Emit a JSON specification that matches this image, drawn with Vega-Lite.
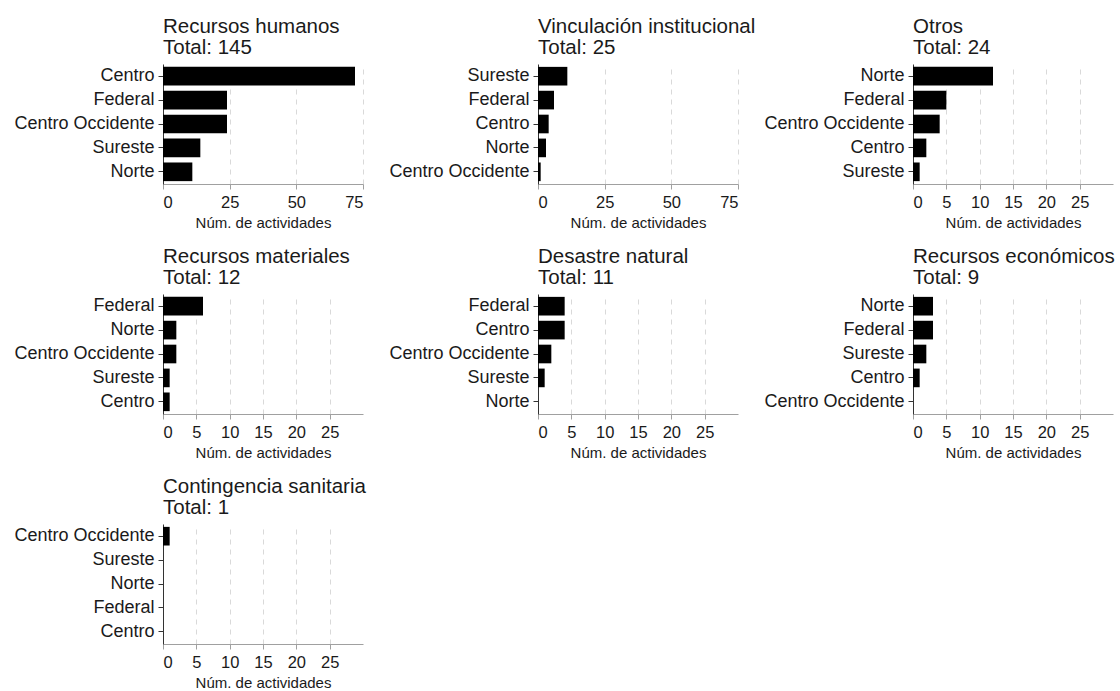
{
  "$schema": "https://vega.github.io/schema/vega-lite/v6.json",
  "padding": {"left": 13, "top": 16, "right": 5, "bottom": 5},
  "data": {"values": [
    {"categoria": "Recursos humanos", "region": "Centro", "n": 72},
    {"categoria": "Recursos humanos", "region": "Federal", "n": 24},
    {"categoria": "Recursos humanos", "region": "Centro Occidente", "n": 24},
    {"categoria": "Recursos humanos", "region": "Sureste", "n": 14},
    {"categoria": "Recursos humanos", "region": "Norte", "n": 11},
    {"categoria": "Vinculación institucional", "region": "Sureste", "n": 11},
    {"categoria": "Vinculación institucional", "region": "Federal", "n": 6},
    {"categoria": "Vinculación institucional", "region": "Centro", "n": 4},
    {"categoria": "Vinculación institucional", "region": "Norte", "n": 3},
    {"categoria": "Vinculación institucional", "region": "Centro Occidente", "n": 1},
    {"categoria": "Otros", "region": "Norte", "n": 12},
    {"categoria": "Otros", "region": "Federal", "n": 5},
    {"categoria": "Otros", "region": "Centro Occidente", "n": 4},
    {"categoria": "Otros", "region": "Centro", "n": 2},
    {"categoria": "Otros", "region": "Sureste", "n": 1},
    {"categoria": "Recursos materiales", "region": "Federal", "n": 6},
    {"categoria": "Recursos materiales", "region": "Norte", "n": 2},
    {"categoria": "Recursos materiales", "region": "Centro Occidente", "n": 2},
    {"categoria": "Recursos materiales", "region": "Sureste", "n": 1},
    {"categoria": "Recursos materiales", "region": "Centro", "n": 1},
    {"categoria": "Desastre natural", "region": "Federal", "n": 4},
    {"categoria": "Desastre natural", "region": "Centro", "n": 4},
    {"categoria": "Desastre natural", "region": "Centro Occidente", "n": 2},
    {"categoria": "Desastre natural", "region": "Sureste", "n": 1},
    {"categoria": "Desastre natural", "region": "Norte", "n": 0},
    {"categoria": "Recursos económicos", "region": "Norte", "n": 3},
    {"categoria": "Recursos económicos", "region": "Federal", "n": 3},
    {"categoria": "Recursos económicos", "region": "Sureste", "n": 2},
    {"categoria": "Recursos económicos", "region": "Centro", "n": 1},
    {"categoria": "Recursos económicos", "region": "Centro Occidente", "n": 0},
    {"categoria": "Contingencia sanitaria", "region": "Centro Occidente", "n": 1},
    {"categoria": "Contingencia sanitaria", "region": "Sureste", "n": 0},
    {"categoria": "Contingencia sanitaria", "region": "Norte", "n": 0},
    {"categoria": "Contingencia sanitaria", "region": "Federal", "n": 0},
    {"categoria": "Contingencia sanitaria", "region": "Centro", "n": 0}
  ]},
  "columns": 3,
  "bounds": "flush",
  "spacing": {"row": 110, "column": 175},
  "concat": [
    {
      "title": {"text": ["Recursos humanos", "Total: 145"]},
      "width": 200, "height": 120,
      "transform": [{"filter": "datum.categoria === 'Recursos humanos'"}],
      "mark": {"type": "bar", "color": "#000000"},
      "encoding": {
        "y": {"field": "region", "type": "nominal", "title": null, "sort": ["Centro", "Federal", "Centro Occidente", "Sureste", "Norte"]},
        "x": {"field": "n", "type": "quantitative", "title": "Núm. de actividades", "scale": {"domain": [0, 75], "nice": false}, "axis": {"values": [0, 25, 50, 75]}}
      }
    },
    {
      "title": {"text": ["Vinculación institucional", "Total: 25"]},
      "width": 200, "height": 120,
      "transform": [{"filter": "datum.categoria === 'Vinculación institucional'"}],
      "mark": {"type": "bar", "color": "#000000"},
      "encoding": {
        "y": {"field": "region", "type": "nominal", "title": null, "sort": ["Sureste", "Federal", "Centro", "Norte", "Centro Occidente"]},
        "x": {"field": "n", "type": "quantitative", "title": "Núm. de actividades", "scale": {"domain": [0, 75], "nice": false}, "axis": {"values": [0, 25, 50, 75]}}
      }
    },
    {
      "title": {"text": ["Otros", "Total: 24"]},
      "width": 200, "height": 120,
      "transform": [{"filter": "datum.categoria === 'Otros'"}],
      "mark": {"type": "bar", "color": "#000000"},
      "encoding": {
        "y": {"field": "region", "type": "nominal", "title": null, "sort": ["Norte", "Federal", "Centro Occidente", "Centro", "Sureste"]},
        "x": {"field": "n", "type": "quantitative", "title": "Núm. de actividades", "scale": {"domain": [0, 30], "nice": false}, "axis": {"values": [0, 5, 10, 15, 20, 25]}}
      }
    },
    {
      "title": {"text": ["Recursos materiales", "Total: 12"]},
      "width": 200, "height": 120,
      "transform": [{"filter": "datum.categoria === 'Recursos materiales'"}],
      "mark": {"type": "bar", "color": "#000000"},
      "encoding": {
        "y": {"field": "region", "type": "nominal", "title": null, "sort": ["Federal", "Norte", "Centro Occidente", "Sureste", "Centro"]},
        "x": {"field": "n", "type": "quantitative", "title": "Núm. de actividades", "scale": {"domain": [0, 30], "nice": false}, "axis": {"values": [0, 5, 10, 15, 20, 25]}}
      }
    },
    {
      "title": {"text": ["Desastre natural", "Total: 11"]},
      "width": 200, "height": 120,
      "transform": [{"filter": "datum.categoria === 'Desastre natural'"}],
      "mark": {"type": "bar", "color": "#000000"},
      "encoding": {
        "y": {"field": "region", "type": "nominal", "title": null, "sort": ["Federal", "Centro", "Centro Occidente", "Sureste", "Norte"]},
        "x": {"field": "n", "type": "quantitative", "title": "Núm. de actividades", "scale": {"domain": [0, 30], "nice": false}, "axis": {"values": [0, 5, 10, 15, 20, 25]}}
      }
    },
    {
      "title": {"text": ["Recursos económicos", "Total: 9"]},
      "width": 200, "height": 120,
      "transform": [{"filter": "datum.categoria === 'Recursos económicos'"}],
      "mark": {"type": "bar", "color": "#000000"},
      "encoding": {
        "y": {"field": "region", "type": "nominal", "title": null, "sort": ["Norte", "Federal", "Sureste", "Centro", "Centro Occidente"]},
        "x": {"field": "n", "type": "quantitative", "title": "Núm. de actividades", "scale": {"domain": [0, 30], "nice": false}, "axis": {"values": [0, 5, 10, 15, 20, 25]}}
      }
    },
    {
      "title": {"text": ["Contingencia sanitaria", "Total: 1"]},
      "width": 200, "height": 120,
      "transform": [{"filter": "datum.categoria === 'Contingencia sanitaria'"}],
      "mark": {"type": "bar", "color": "#000000"},
      "encoding": {
        "y": {"field": "region", "type": "nominal", "title": null, "sort": ["Centro Occidente", "Sureste", "Norte", "Federal", "Centro"]},
        "x": {"field": "n", "type": "quantitative", "title": "Núm. de actividades", "scale": {"domain": [0, 30], "nice": false}, "axis": {"values": [0, 5, 10, 15, 20, 25]}}
      }
    }
  ],
  "config": {
    "font": "Liberation Sans",
    "view": {"stroke": null},
    "scale": {"bandPaddingInner": 0.22, "bandPaddingOuter": 0.12},
    "title": {"anchor": "start", "frame": "group", "fontSize": 20.5, "fontWeight": "normal", "color": "#1a1a1a", "lineHeight": 21, "offset": 6},
    "axis": {"labelFontSize": 18, "labelColor": "#1a1a1a", "titleFontSize": 15, "titleFontWeight": "normal", "titleColor": "#1a1a1a", "tickSize": 5},
    "axisX": {"grid": true, "gridDash": [5, 5], "gridColor": "#d9d9d9", "domainColor": "#a0a0a0", "tickColor": "#a0a0a0", "labelFontSize": 16.5, "labelPadding": 5, "titlePadding": 5},
    "axisY": {"grid": false, "domainColor": "#333333", "tickColor": "#333333", "labelPadding": 4}
  }
}
